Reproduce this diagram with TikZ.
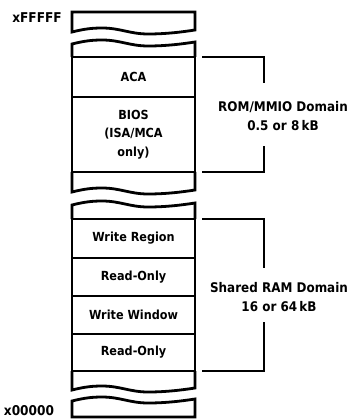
\documentclass[tikz,border=0pt]{standalone}
\usepackage{fontspec}
\setmainfont{DejaVu Sans Condensed}
\usetikzlibrary{positioning}

\begin{document}
\begin{tikzpicture}[
    x=1pt, y=-1pt,
    line width=2.8pt,
    every node/.style={font=\fontsize{12.5}{18.5}\selectfont\bfseries},
    region/.style={
        draw,
        minimum width=123pt,
        minimum height=38pt,
        inner sep=0pt,
        outer sep=0pt,
        align=center
    },
    domainlabel/.style={
        font=\fontsize{13.3}{19}\selectfont\bfseries,
        align=center
    },
    addr/.style={font=\fontsize{13.5}{15}\selectfont\bfseries},
    bracket/.style={line width=2pt},
    wavy/.style={insert path={
        .. controls +(12,-3) and +(-10,0) .. ++(30,-4)
        .. controls +(18,0) and +(-18,0) .. ++(46,6)
        .. controls +(18,0) and +(-13,2) .. ++(47,-4)}}
]
\useasboundingbox (0,0) rectangle (350,419);

% --- top of the address space ---
\draw (72,32) [wavy] -- (195,12) -- (72,12) -- cycle;
\node[addr] (top) at (37,18) {xFFFFF};

% --- ROM/MMIO domain ---
\node[region, minimum height=40pt] (aca) at (133.5,77) {ACA};
\node[region, minimum height=75pt, below=0pt of aca] (bios) {BIOS\\(ISA/MCA\\only)};
\draw (aca.north west) -- (72,44) [wavy] -- (aca.north east);
\draw (bios.south west) -- (72,192) [wavy] -- (bios.south east);

\node[domainlabel] (rom) at (283,116) {ROM/MMIO Domain\\0.5 or 8\,kB};
\draw[bracket] ([xshift=7pt]aca.north east) -- ++(62,0) -- ++(0,26);
\draw[bracket] ([xshift=7pt]bios.south east) -- ++(62,0) -- ++(0,-26);

% --- Shared RAM domain ---
\node[region, minimum height=39pt] (wregion) at (133.5,238.5) {Write Region};
\node[region, below=0pt of wregion] (ro1) {Read-Only};
\node[region, below=0pt of ro1] (wwindow) {Write Window};
\node[region, minimum height=37pt, below=0pt of wwindow] (ro2) {Read-Only};
\draw (wregion.north west) -- (72,205) [wavy] -- (wregion.north east);
\draw (ro2.south west) -- (72,390) [wavy] -- (ro2.south east);

\node[domainlabel] (shared) at (279,297) {Shared RAM Domain\\16 or 64\,kB};
\draw[bracket] ([xshift=7pt]wregion.north east) -- ++(62,0) -- ++(0,49);
\draw[bracket] ([xshift=7pt]ro2.south east) -- ++(62,0) -- ++(0,-49);

% --- bottom of the address space ---
\draw (72,401) [wavy] -- (195,417) -- (72,417) -- cycle;
\node[addr] (bottom) at (29,411) {x00000};

\end{tikzpicture}
\end{document}
